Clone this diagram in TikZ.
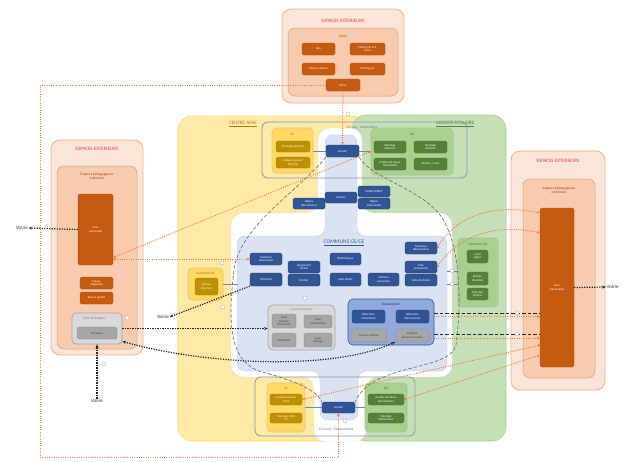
\documentclass[tikz,border=0pt]{standalone}
\usepackage{fontspec}
\setmainfont{Carlito}
\usetikzlibrary{arrows.meta,calc}
\definecolor{orE}{HTML}{ED7D31}
\definecolor{orDark}{HTML}{C55A11}
\definecolor{orLight}{HTML}{FBE5D6}
\definecolor{orMid}{HTML}{F8CBAD}
\definecolor{orBorder}{HTML}{F4B183}
\definecolor{ttlRed}{HTML}{E03C50}
\definecolor{yeLight}{HTML}{FFE9A6}
\definecolor{yeMid}{HTML}{FFD966}
\definecolor{yeDark}{HTML}{BF9000}
\definecolor{grLight}{HTML}{C5E0B4}
\definecolor{grMid}{HTML}{A9D18E}
\definecolor{grDark}{HTML}{548235}
\definecolor{blLight}{HTML}{DAE3F3}
\definecolor{blMid}{HTML}{8FAADC}
\definecolor{blDark}{HTML}{2F5597}
\definecolor{blDeep}{HTML}{1F3864}
\definecolor{gyLight}{HTML}{D9D9D9}
\definecolor{gyMid}{HTML}{A6A6A6}
\definecolor{gyDark}{HTML}{7F7F7F}
\definecolor{frameC}{HTML}{8497B0}
\newcommand\fsz[2]{\fontsize{#1}{#2}\selectfont}
\newcommand\bx[7]{%
 \pgfmathsetmacro\bxcx{(#3+#5)/2}\pgfmathsetmacro\bxcy{(#4+#6)/2}%
 \pgfmathsetmacro\bxw{#5-#3}\pgfmathsetmacro\bxh{#6-#4}%
 \node[#2, minimum width=\bxw pt, minimum height=\bxh pt] (#1) at (\bxcx,\bxcy) {#7};}
\begin{document}
\begin{tikzpicture}[x=1pt,y=-1pt,
  lbl/.style={font=\fsz{3}{3.4}, align=center, inner sep=0.3pt, line width=0.3pt, rounded corners=1.5pt},
  obox/.style={lbl, fill=orDark, draw=orDark!85!black, text=white},
  ybox/.style={lbl, fill=yeDark, draw=yeDark!85!black, text=white},
  gbox/.style={lbl, fill=grDark, draw=grDark!85!black, text=white},
  bbox/.style={lbl, fill=blDark, draw=blDeep, text=white},
  gybox/.style={lbl, fill=gyMid, draw=gyDark, text=black!75},
  extO/.style={fill=orLight, draw=orBorder, line width=0.8pt, rounded corners=9pt},
  extI/.style={fill=orMid, draw=orDark!60, line width=0.5pt, rounded corners=7pt},
  regY/.style={fill=yeLight, draw=yeMid, line width=0.6pt, rounded corners=14pt},
  regG/.style={fill=grLight, draw=grMid, line width=0.6pt, rounded corners=14pt},
  contY/.style={fill=yeMid, draw=yeDark!50, line width=0.6pt, rounded corners=4pt},
  contG/.style={fill=grMid, draw=grDark!50, line width=0.6pt, rounded corners=4pt},
  contGy/.style={fill=gyLight, draw=gyMid, line width=0.7pt, rounded corners=5pt},
  contB/.style={fill=blMid, draw=blDark, line width=0.6pt, rounded corners=5pt},
  ztbox/.style={fill=gyLight, draw=gyMid, line width=0.8pt, rounded corners=4pt},
  frm/.style={draw=frameC, line width=0.8pt, rounded corners=6pt},
  ttl/.style={font=\fsz{5}{6}, text=ttlRed, inner sep=0},
  brl/.style={font=\fsz{3.6}{4.2}, text=orDark!80!black, align=center, inner sep=0},
  ttlY/.style={font=\fsz{5}{6}, text=yeDark!90!black, inner sep=0},
  ttlG/.style={font=\fsz{5}{6}, text=grDark, inner sep=0},
  blt/.style={font=\fsz{5.5}{6}, text=blDark, inner sep=0},
  bl2/.style={font=\fsz{3.5}{4}, text=blDeep, inner sep=0},
  yl/.style={font=\fsz{3.4}{4}, text=yeDark!80!black, inner sep=0},
  gl/.style={font=\fsz{3.4}{4}, text=grDark!80!black, inner sep=0},
  gyl/.style={font=\fsz{3}{3.5}, text=gyDark, inner sep=0},
  frl/.style={font=\fsz{3.6}{4}, text=frameC!80!black, inner sep=0},
  vl/.style={font=\fsz{5}{6}, text=black!80, inner sep=0.5pt},
  ztl/.style={font=\fsz{3.6}{4}\itshape, text=gyDark, inner sep=0},
  orA/.style={draw=orE, line width=0.9pt, dash pattern=on 1pt off 1.3pt, -{Stealth[length=3pt,width=2.6pt]}},
  orAd/.style={orA, {Circle[length=2.2pt]}-{Stealth[length=3pt,width=2.6pt]}},
  orB/.style={orA, {Stealth[length=3pt,width=2.6pt]}-{Stealth[length=3pt,width=2.6pt]}},
  kdot/.style={draw=black!85, line width=1.2pt, dash pattern=on 1.2pt off 1.3pt, -{Stealth[length=3.5pt,width=3pt]}},
  kdotB/.style={kdot, {Stealth[length=3.5pt,width=3pt]}-{Stealth[length=3.5pt,width=3pt]}},
  gdash/.style={draw=gray!80!black, line width=0.6pt, dash pattern=on 3.5pt off 2pt},
  kdash/.style={draw=black!85, line width=0.7pt, dash pattern=on 3.5pt off 2pt},
  bcon/.style={draw=blDark!70, line width=0.8pt},
  ic/.style={circle, draw=gray!70, line width=0.3pt, minimum size=4pt, inner sep=0, fill=white}
]
\useasboundingbox (0,0) rectangle (624,461);
% top exterior
\bx{extT}{extO}{282}{9}{404}{103}{}
\node[ttl] (extTt) at (343,21) {ESPACES EXTERIEURS};
\bx{voirT}{extI}{288}{28}{398}{96}{}
\node[brl] (voirTl) at (343,36) {Voirie};
\bx{bus}{obox}{302}{43}{335}{55}{Bus}
\bx{pksl}{obox}{350}{43}{385}{55}{Parking SL et 2\\roues}
\bx{depo}{obox}{302}{63}{335}{75}{Dépose minute}
\bx{pkpro}{obox}{350}{63}{385}{75}{Parking pro}
\bx{parvis}{obox}{326}{79}{360}{91}{Parvis}
% left exterior
\bx{extL}{extO}{51}{140}{143}{355}{}
\node[ttl] (extLt) at (97,149) {ESPACES EXTERIEURS};
\bx{pedL}{extI}{57}{166}{137}{349}{}
\node[brl] (pedLt) at (97,176) {Espaces pédagogiques\\extérieurs};
\bx{courMat}{obox}{78}{194}{113}{265}{Cour\\maternelle}
\bx{espVeg}{obox}{80}{277}{113}{289}{Espace\\végétalisé}
\bx{espSp}{obox}{80}{292}{113}{304}{Espace sportif}
\bx{zt}{ztbox}{72}{313}{122}{344}{}
\node[ztl] (ztt) at (94,319) {Zone technique};
\bx{livr}{gybox}{77}{327}{117}{339}{Livraisons}
% right exterior
\bx{extR}{extO}{511}{151}{605}{390}{}
\node[ttl] (extRt) at (558,161) {ESPACES EXTERIEURS};
\bx{pedR}{extI}{523}{179}{595}{378}{}
\node[brl] (pedRt) at (559,190) {Espaces pédagogiques\\extérieurs};
\bx{courEl}{obox}{540}{208}{574}{367}{Cour\\élémentaire}
% regions
\bx{ca}{regY}{178}{116}{366}{441}{}
\bx{gsr}{regG}{352}{115}{506}{441}{}
\node[ttlY] (cat) at (243,124) {\underline{CENTRE AERE}};
\node[ttlG] (gsrt) at (455,124) {\underline{GROUPE SCOLAIRE}};
% white zone and communs zone
\draw[fill=white, draw=gray!20, line width=0.4pt, rounded corners=12pt]
  (318,128) -- (362,128) -- (362,213) -- (452,213) -- (452,377) -- (366,377) -- (366,442)
  -- (314,442) -- (314,377) -- (231,377) -- (231,213) -- (318,213) -- cycle;
\draw[fill=blLight, draw=blMid!60, line width=0.4pt, rounded corners=8pt]
  (325,135) -- (357,135) -- (357,236) -- (447,236) -- (447,371) -- (358,371) -- (358,420)
  -- (320,420) -- (320,371) -- (237,371) -- (237,236) -- (325,236) -- cycle;
% frames
\bx{frT}{frm}{262}{122}{467}{178}{}
\node[frl, anchor=west] (frTt) at (346,127) {3/6 ans - Maternelles};
\bx{frB}{frm}{255}{377}{415}{436}{}
\node[frl] (frBt) at (336,429) {6/10 ans - Elémentaires};
% top CE / accueil / GS
\bx{ceT}{contY}{272}{128}{313}{173}{}
\node[yl] (ceTt) at (292,134) {CE};
\bx{stACM}{ybox}{276}{141}{310}{152}{Stockage ACM ext}
\bx{cabACM}{ybox}{276}{157}{310}{168}{Cabane à jouets\\ACM ext}
\bx{accT}{bbox}{326}{145}{359}{157}{Accueil}
\bx{gsT}{contG}{371}{128}{453}{175}{}
\node[gl] (gsTt) at (412,134) {GS};
\bx{stExt}{gbox}{374}{141}{406}{153}{Stockage\\extérieur}
\bx{stInt}{gbox}{414}{141}{447}{153}{Stockage\\intérieur}
\bx{clMat}{gbox}{374}{158}{406}{170}{X Salles de classe\\maternelles}
\bx{atel}{gbox}{414}{158}{447}{170}{Ateliers / cour}
% middle
\bx{regEl}{bbox}{293}{198}{325}{209}{Régies\\élémentaires}
\bx{esc}{bbox}{325}{192}{357}{203}{Escalier}
\bx{depAT}{bbox}{358}{186}{390}{197}{Dépôt ATSEM}
\bx{regMat}{bbox}{358}{198}{390}{209}{Régies\\maternelles}
\node[blt] (comt) at (344,243) {\underline{COMMUNS GS/CE}};
\bx{sanMat}{bbox}{250}{253}{282}{265}{Sanitaires\\maternelles}
\bx{rgDort}{bbox}{288}{261}{320}{273}{Rangement\\dortoir}
\bx{inf}{bbox}{250}{273}{282}{286}{Infirmerie}
\bx{dort}{bbox}{288}{274}{320}{286}{Dortoir}
\bx{bib}{bbox}{330}{253}{361}{265}{Bibliothèque}
\bx{salDes}{bbox}{330}{273}{361}{286}{Salle dessin}
\bx{vestP}{bbox}{368}{273}{399}{286}{Vestiaire\\personnel}
\bx{sanEl}{bbox}{405}{242}{437}{254}{Sanitaires\\élémentaires}
\bx{salPoly}{bbox}{405}{261}{437}{273}{Salle\\polyvalente}
\bx{salAct}{bbox}{405}{274}{437}{286}{Salle d'activités}
% communs CE / GS
\bx{cCE}{contY}{188}{268}{223}{300}{}
\node[yl] (cCEt) at (205.5,273) {Communs CE};
\bx{bdCE}{ybox}{195}{278}{218}{295}{Bureau\\direction}
\bx{cGS}{contG}{458}{238}{498}{307}{}
\node[gl] (cGSt) at (478,244) {Communs GS};
\bx{locAg}{gbox}{467}{250}{488}{263}{Local\\agent}
\bx{bdGS}{gbox}{467}{272}{488}{285}{Bureau\\direction}
\bx{salM}{gbox}{467}{288}{488}{300}{Salle des\\maîtres}
% locaux techniques
\bx{locT}{contGy}{268}{305}{335}{350}{}
\node[gyl] (locTt) at (301.5,310) {Locaux techniques};
\bx{lpe}{gybox}{272}{314}{296}{328}{Local\\produits\\d'entretien}
\bx{linf}{gybox}{304}{315}{332}{328}{Local\\informatique}
\bx{chauf}{gybox}{272}{333}{296}{347}{Chaufferie}
\bx{lmen}{gybox}{304}{333}{332}{347}{Local\\ménage}
% restauration
\bx{resto}{contB}{348}{299}{434}{345}{}
\node[bl2] (restot) at (391,304) {Restauration};
\bx{refMat}{bbox}{352}{310}{385}{323}{Réfectoire\\maternelles}
\bx{refEl}{bbox}{396}{310}{429}{323}{Réfectoire\\élémentaires}
\bx{cuis}{gybox}{351}{329}{387}{342}{Cuisine satellite}
\bx{vestC}{gybox}{395}{329}{429}{342}{Vestiaire\\personnel cuisine}
% bottom CE / accueil / GS
\bx{ceB}{contY}{267}{383}{305}{432}{}
\node[yl] (ceBt) at (286,388) {CE};
\bx{salACM}{ybox}{270}{394}{302}{405}{X salles d'accueil\\ACM}
\bx{stACMi}{ybox}{270}{413}{302}{423}{Stockage ACM\\int}
\bx{accB}{bbox}{322}{402}{355}{413}{Accueil}
\bx{gsB}{contG}{365}{383}{407}{432}{}
\node[gl] (gsBt) at (386,388) {GS};
\bx{clEl}{gbox}{368}{394}{404}{405}{X salles de classe\\élémentaires}
\bx{stEl}{gbox}{368}{413}{404}{423}{Stockage\\élémentaire}
% voirie labels
\node[vl] (voL) at (22,228) {Voirie};
\node[vl, anchor=west] (voR) at (606,287) {Voirie};
\node[vl] (voB) at (97,401) {Voirie};
\node[vl] (voM) at (163,317) {Voirie};
% coordinates
\coordinate (lx) at (40,0);
\coordinate (bl) at (40,457);
\coordinate (k1) at ($(resto.east)+(0,-9)$);
\coordinate (k2) at ($(resto.east)+(0,12)$);
\coordinate (o2) at ($(vestC.east)+(0,2.5)$);
\coordinate (cbE) at (238,284);
\coordinate (cgW1) at (447,271);
\coordinate (cgW2) at (447,284);
% blue connectors
\draw[bcon] (ceT.east |- accT.west) -- (accT.west);
\draw[bcon] (accT.east) -- (accT.east -| gsT.west);
\draw[bcon] (ceB.east |- accB.west) -- (accB.west);
\draw[bcon] (accB.east) -- (accB.east -| gsB.west);
\draw[bcon] (cCE.east) -- (cbE);
\draw[bcon] (cgW1) -- (cgW1 -| cGS.west);
\draw[bcon] (cgW2) -- (cgW2 -| cGS.west);
% grey dashed circulation
\draw[gdash] (accT.south west) .. controls (300,190) and (240,225) .. (234,270)
  .. controls (228,320) and (228,362) .. (262,372) .. controls (300,382) and (318,392) .. (accB.north west);
\draw[gdash] (accT.south east) .. controls (370,178) and (425,190) .. (442,218)
  .. controls (460,245) and (462,300) .. (456,345) .. controls (450,372) and (372,362) .. (accB.north east);
% orange connectors
\draw[orA] (parvis.west) -- (parvis.west -| lx) -- (bl) -- (accB.south |- bl) -- (accB.south);
\draw[orA] (parvis.south) -- (accT.north);
\draw[orAd] (gsT.west) -- ($(courMat.east)+(0,28)$);
\draw[orB] (courMat.east |- sanMat.west) -- (sanMat.west);
\draw[orAd] (sanEl.east) .. controls (452,222) and (485,202) .. ($(courEl.north west)+(0,5)$);
\draw[orAd] (salPoly.east) .. controls (455,240) and (490,222) .. ($(courEl.north west)+(0,25)$);
\draw[orA] (refEl.east) -- (refEl.east -| courEl.west);
\draw[orA] (o2) -- (o2 -| courEl.west);
\draw[orAd] ($(courEl.south west)+(0,-22)$) -- (salACM.east);
\draw[orAd] (clEl.east) -- ($(courEl.south west)+(0,-12)$);
% black dashed
\draw[kdash] (k1) -- (k1 -| courEl.west);
\draw[kdash] (k2) -- (k2 -| courEl.west);
% black dotted
\draw[kdot] (courMat.west) -- (voL.east);
\draw[kdot] (courEl.east) -- (voR.west);
\draw[kdot] (voB.north) -- (zt.south);
\draw[kdot] (inf.south west) -- (voM.east);
\draw[kdot] (zt.east) -- (zt.east -| locT.west);
\draw[kdotB] ($(zt.south east)+(0,-3)$) .. controls (210,366) and (335,370) .. (vestC.south west);
% small markers
\node[ic] (m1) at (348,114) {};
\node[ic] (m2) at (345,421) {};
\node[ic] (m3) at (127,318) {};
\node[ic] (m4) at (104,364) {};
\node[ic] (m5) at (222,263) {};
\node[ic] (m6) at (223,307) {};
\node[ic] (m7) at (305,298) {};
\node[ic] (m8) at (452,271) {};
\node[ic] (m9) at (452,284) {};
\node[ic] (m10) at (517,313) {};
\node[ic] (m11) at (517,334) {};
\end{tikzpicture}
\end{document}
